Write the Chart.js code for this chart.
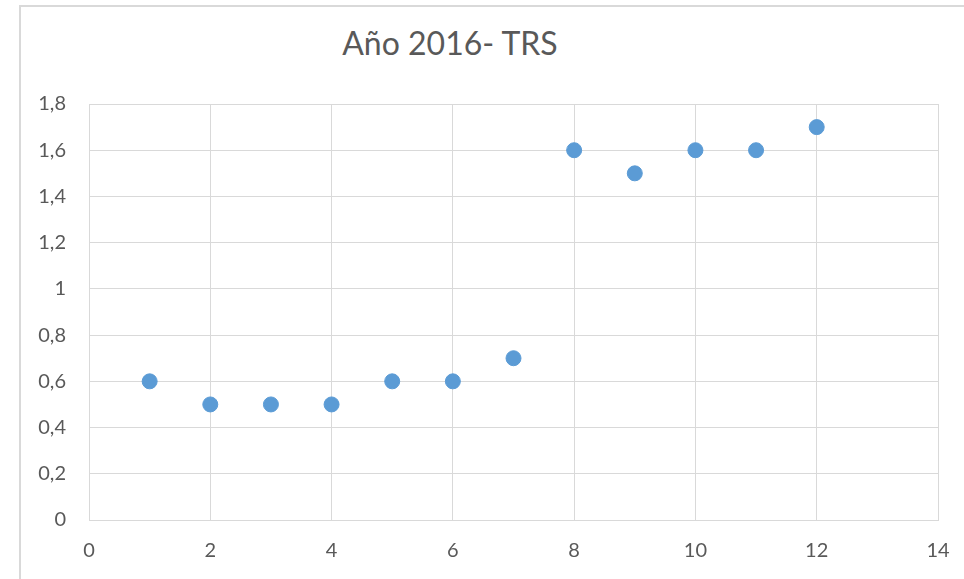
<!DOCTYPE html>
<html>
<head>
<meta charset="utf-8">
<script src="https://cdn.jsdelivr.net/npm/chart.js@4"></script>
<style>
  html, body { margin: 0; padding: 0; background: #fff; }
  #wrap { position: relative; width: 964px; height: 579px; overflow: hidden; }
  #frame { position: absolute; left: 19px; top: 5px; width: 1000px; height: 620px; border: 2px solid #d9d9d9; box-sizing: border-box; }
  #title { position: absolute; left: 0; width: 900px; top: 23px; text-align: center; font-family: Lato, "Open Sans", sans-serif; font-size: 32px; color: #595959; }
  canvas { position: absolute; left: 0; top: 0; }
</style>
</head>
<body>
<div id="wrap">
  <div id="frame"></div>
  <div id="title">Año 2016- TRS</div>
  <canvas id="chart" width="964" height="579"></canvas>
</div>
<script>
// months 1..12 and the TRS value
const months = [1, 2, 3, 4, 5, 6, 7, 8, 9, 10, 11, 12]
const trs = [0.6, 0.5, 0.5, 0.5, 0.6, 0.6, 0.7, 1.6, 1.5, 1.6, 1.6, 1.7]

const xMin = 0, xMax = 14, xStep = 2
const yMin = 0, yMax = 1.8, yStep = 0.2

const points = months.map((m, i) => ({ x: m, y: trs[i] }))

const tickFont = { family: "Lato", size: 20 }

function draw() {
  new Chart(document.getElementById("chart"), {
    type: 'scatter',
    data: {
      datasets: [{
        label: 'TRS',
        data: points,
        backgroundColor: '#5b9bd5',
        borderColor: '#5b9bd5',
        pointRadius: 7.5,
        pointHoverRadius: 7.5
      }]
    },
    options: {
      responsive: false,
      animation: false,
      layout: { padding: { top: 104, right: 26, left: 0, bottom: 0 } },
      plugins: { legend: { display: false }, tooltip: { enabled: false } },
      scales: {
        x: {
          type: 'linear',
          min: xMin, max: xMax,
          ticks: { stepSize: xStep, color: '#595959', font: tickFont, padding: 19 },
          grid: { color: '#d9d9d9', drawTicks: false },
          border: { color: '#d9d9d9' },
          afterFit: (s) => { s.height = 59; s.paddingLeft = 0; s.paddingRight = 0 }
        },
        y: {
          min: yMin, max: yMax,
          ticks: {
            stepSize: yStep, color: '#595959', font: tickFont, padding: 23,
            callback: (v) => (Math.round(v * 10) / 10).toString().replace('.', ',')
          },
          grid: { color: '#d9d9d9', drawTicks: false },
          border: { color: '#d9d9d9' },
          afterFit: (s) => { s.width = 89; s.paddingTop = 0; s.paddingBottom = 0 }
        }
      }
    }
  })
}

document.fonts.load("20px Lato").then(draw, draw)
</script>
</body>
</html>
